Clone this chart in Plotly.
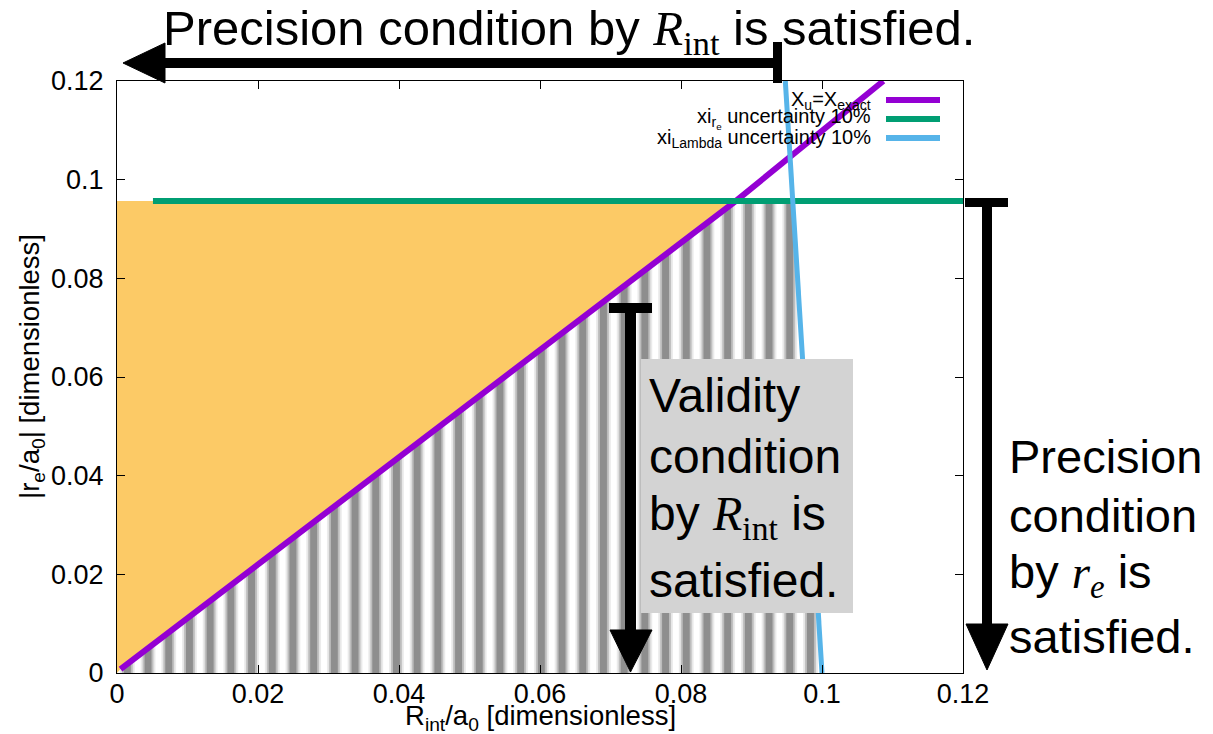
import numpy as np
import plotly.graph_objects as go

# ---------------- data ----------------
x_ticks = [0, 0.02, 0.04, 0.06, 0.08, 0.1, 0.12]
x_tick_labels = ["0", "0.02", "0.04", "0.06", "0.08", "0.1", "0.12"]
y_ticks = [0, 0.02, 0.04, 0.06, 0.08, 0.1, 0.12]
y_tick_labels = ["0", "0.02", "0.04", "0.06", "0.08", "0.1", "0.12"]

# X_u = X_exact curve
exact_x = [0.0005, 0.04, 0.0692, 0.0878, 0.1087]
exact_y = [0.0008, 0.0437, 0.0756, 0.0957, 0.1200]
# xi_{r_e} uncertainty 10%
re_x = [0.0051, 0.1200]
re_y = [0.0957, 0.0957]
# xi_Lambda uncertainty 10%
lam_x = [0.0948, 0.1000]
lam_y = [0.1200, 0.0000]

legend_labels = ["X<sub>u</sub>=X<sub>exact</sub>",
                 "xi<sub>r<sub>e</sub></sub> uncertainty 10%",
                 "xi<sub>Lambda</sub> uncertainty 10%"]
colors = ["#9400d3", "#009e73", "#56b4e9"]

# ---------------- layout helpers (page pixel coords) ----------------
OFF = 8                      # default body margin of the html page
PAGE_W, PAGE_H = 1213, 734
W, H = PAGE_W - OFF, PAGE_H - OFF
L, R, T, B = 117, 963, 81, 673   # plot frame in page pixels
def xp(px):
    return (px - L) / (R - L)
def yp(py):
    return (B - py) / (B - T)

SANS = "Liberation Sans, Arial, Helvetica, sans-serif"
SERIF = "Liberation Serif"

fig = go.Figure()

# region bounds derived from the curves
cap = re_y[0]
ex = np.array(exact_x); ey = np.array(exact_y)
lam_at_cap = float(np.interp(cap, lam_y[::-1], lam_x[::-1]))
lam_at_0 = float(np.interp(0.0, lam_y[::-1], lam_x[::-1]))
mask = ey <= cap

# orange region: above the exact line, below r_e cap
orange_x = [0.0, 0.0] + list(ex[mask][::-1]) + [0.0]
orange_y = [0.0, cap] + list(ey[mask][::-1]) + [0.0]
fig.add_trace(go.Scatter(x=orange_x, y=orange_y, fill="toself", mode="none",
                         fillcolor="#fcca66", showlegend=False, hoverinfo="skip"))

# hatched region: below exact line, left of Lambda line, below cap
hat_x = [0.0] + list(ex[mask]) + [lam_at_cap, lam_at_0, 0.0]
hat_y = [0.0] + list(ey[mask]) + [cap, 0.0, 0.0]
for col, sol in [("#d0d0d0", 0.70), ("#969696", 0.52), ("#5e5e5e", 0.34)]:
    fig.add_trace(go.Scatter(x=hat_x, y=hat_y, fill="toself", mode="none",
                             fillcolor="rgba(0,0,0,0)",
                             fillpattern=dict(shape="|", size=20.7, solidity=sol,
                                              fgcolor=col, bgcolor="rgba(0,0,0,0)"),
                             showlegend=False, hoverinfo="skip"))

# curves
fig.add_trace(go.Scatter(x=exact_x, y=exact_y, mode="lines",
                         line=dict(color=colors[0], width=6), showlegend=False))
fig.add_trace(go.Scatter(x=re_x, y=re_y, mode="lines",
                         line=dict(color=colors[1], width=6), showlegend=False,
                         cliponaxis=False))
fig.add_trace(go.Scatter(x=lam_x, y=lam_y, mode="lines",
                         line=dict(color=colors[2], width=5), showlegend=False))

shapes = []
annotations = []

# legend (text right aligned, sample to the right)
leg_y = [100, 119, 138]
for lab, col, py in zip(legend_labels, colors, leg_y):
    annotations.append(dict(x=xp(873), y=yp(py), xref="paper", yref="paper",
                            text=lab, showarrow=False, xanchor="right", yanchor="middle",
                            font=dict(family=SANS, size=20, color="black")))
    shapes.append(dict(type="line", xref="paper", yref="paper",
                       x0=xp(886), x1=xp(940), y0=yp(py), y1=yp(py),
                       line=dict(color=col, width=6), layer="above"))

# grey box
shapes.append(dict(type="rect", xref="paper", yref="paper",
                   x0=xp(641), x1=xp(853), y0=yp(613), y1=yp(359),
                   fillcolor="#d3d3d3", line=dict(width=0), layer="above"))

def bar(x0, y0, x1, y1, w):
    shapes.append(dict(type="line", xref="paper", yref="paper",
                       x0=xp(x0), x1=xp(x1), y0=yp(y0), y1=yp(y1),
                       line=dict(color="black", width=w), layer="above"))

def tri(pts):
    d = "M " + " L ".join(f"{xp(a):.5f},{yp(b):.5f}" for a, b in pts) + " Z"
    shapes.append(dict(type="path", xref="paper", yref="paper", path=d,
                       fillcolor="black", line=dict(color="black", width=1), layer="above"))

# top arrow (pointing left)
bar(162, 63, 778, 63, 10)
bar(777.5, 42, 777.5, 83, 9)
tri([(123, 63), (165, 43), (165, 83)])

# middle arrow (pointing down)
bar(609, 308, 652, 308, 10)
bar(630.5, 308, 630.5, 632, 11)
tri([(630.5, 672), (610, 630), (652, 630)])

# right arrow (pointing down)
bar(965, 202.5, 1008, 202.5, 9)
bar(987, 202, 987, 626, 10)
tri([(987, 670), (966, 624), (1008, 624)])

# texts
def txt(s, px, py, size=47, anchor="left"):
    annotations.append(dict(x=xp(px), y=yp(py), xref="paper", yref="paper",
                            text=s, showarrow=False, xanchor=anchor, yanchor="middle",
                            font=dict(family=SANS, size=size, color="black")))

R_int = f"<span style='font-family:{SERIF}'><i>R</i><sub>int</sub></span>"
r_e = f"<span style='font-family:{SERIF}'><i>r</i><sub><i>e</i></sub></span>"

txt(f"Precision condition by {R_int} is satisfied.", 161, 31, size=49)
for s, py in zip(["Validity", "condition", f"by {R_int} is", "satisfied."],
                 [396, 456, 517, 580]):
    txt(s, 647, py, size=48)
for s, py in zip(["Precision", "condition", f"by {r_e} is", "satisfied."],
                 [456, 515, 575, 636]):
    txt(s, 1007, py, size=47)

# axis titles
annotations.append(dict(x=xp(540), y=yp(717), xref="paper", yref="paper",
                        text="R<sub>int</sub>/a<sub>0</sub> [dimensionless]",
                        showarrow=False, xanchor="center", yanchor="middle",
                        font=dict(family=SANS, size=27.5, color="black")))
annotations.append(dict(x=xp(31), y=yp(367), xref="paper", yref="paper",
                        text="|r<sub>e</sub>/a<sub>0</sub>| [dimensionless]",
                        showarrow=False, xanchor="center", yanchor="middle", textangle=-90,
                        font=dict(family=SANS, size=27.5, color="black")))

axis_common = dict(showline=True, linecolor="black", linewidth=1.3, mirror="ticks",
                   ticks="inside", ticklen=8, tickcolor="black", tickwidth=1,
                   showgrid=False, zeroline=False,
                   tickfont=dict(family=SANS, size=27, color="black"))

fig.update_layout(
    width=W, height=H,
    margin=dict(l=L - OFF, r=PAGE_W - R, t=T - OFF, b=PAGE_H - B, autoexpand=False),
    paper_bgcolor="white", plot_bgcolor="white",
    showlegend=False,
    xaxis=dict(range=[0, 0.12], tickvals=x_ticks, ticktext=x_tick_labels,
               ticklabelstandoff=-4, **axis_common),
    yaxis=dict(range=[0, 0.12], tickvals=y_ticks, ticktext=y_tick_labels,
               ticklabelstandoff=7, **axis_common),
    shapes=shapes, annotations=annotations,
)

fig.write_html("out.html")
